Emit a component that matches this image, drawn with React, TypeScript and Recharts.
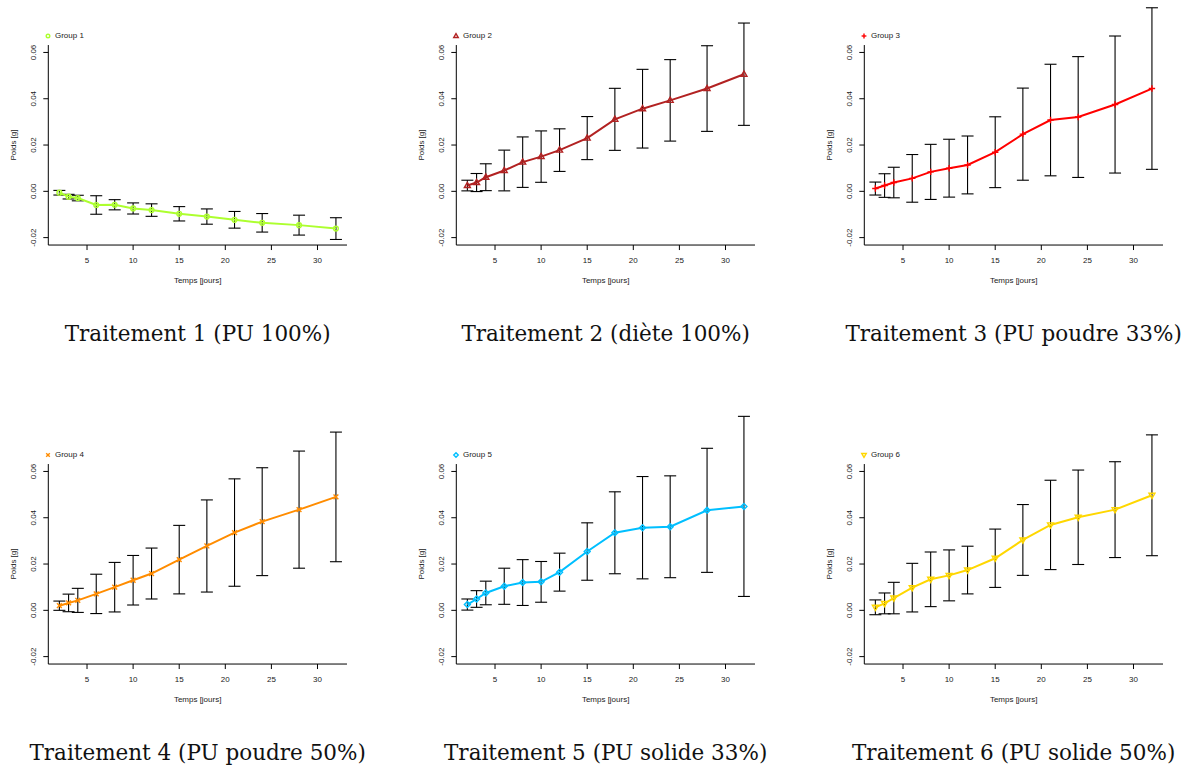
import React from 'react';
import { LineChart, Line, XAxis, YAxis, ErrorBar, ReferenceLine, Legend } from 'recharts';

// ---------- data ----------
const days = [2, 3, 4, 6, 8, 10, 12, 15, 18, 21, 24, 28, 32];
const xTicks = [5, 10, 15, 20, 25, 30];
const yTicks = [-0.02, 0, 0.02, 0.04, 0.06];

const groupNames = ['Group 1', 'Group 2', 'Group 3', 'Group 4', 'Group 5', 'Group 6'];
const titles = [
  'Traitement 1 (PU 100%)',
  'Traitement 2 (diète 100%)',
  'Traitement 3 (PU poudre 33%)',
  'Traitement 4 (PU poudre 50%)',
  'Traitement 5 (PU solide 33%)',
  'Traitement 6 (PU solide 50%)',
];
const xLabel = 'Temps [jours]';
const yLabel = 'Poids [g]';

const mean1 = [-0.0006, -0.0023, -0.0029, -0.0059, -0.0058, -0.0074, -0.0081, -0.0097, -0.0109, -0.0123, -0.0136, -0.0146, -0.0161];
const err1 = [0.001, 0.001, 0.0012, 0.004, 0.0022, 0.0024, 0.0027, 0.0031, 0.0033, 0.0036, 0.004, 0.0043, 0.0047];
const mean2 = [0.0025, 0.0038, 0.0061, 0.009, 0.0126, 0.015, 0.0178, 0.023, 0.0311, 0.0357, 0.0393, 0.0444, 0.0506];
const err2 = [0.0023, 0.0039, 0.0058, 0.0088, 0.0109, 0.0111, 0.0092, 0.0093, 0.0134, 0.017, 0.0176, 0.0185, 0.0221];
const mean3 = [0.0012, 0.0025, 0.0038, 0.0056, 0.0084, 0.01, 0.0114, 0.0169, 0.0247, 0.0308, 0.0321, 0.0375, 0.0444];
const err3 = [0.0028, 0.0051, 0.0066, 0.0103, 0.0119, 0.0125, 0.0125, 0.0153, 0.0199, 0.0241, 0.0261, 0.0296, 0.0349];
const mean4 = [0.002, 0.0032, 0.0043, 0.0071, 0.01, 0.013, 0.0159, 0.0219, 0.0278, 0.0336, 0.0383, 0.0435, 0.049];
const err4 = [0.002, 0.0038, 0.0052, 0.0085, 0.0107, 0.0107, 0.011, 0.0148, 0.0199, 0.0232, 0.0233, 0.0253, 0.028];
const mean5 = [0.0025, 0.0049, 0.0075, 0.0104, 0.012, 0.0123, 0.0165, 0.0254, 0.0335, 0.0357, 0.0361, 0.0432, 0.0449];
const err5 = [0.0024, 0.0036, 0.0051, 0.0078, 0.0099, 0.0088, 0.0082, 0.0124, 0.0177, 0.0221, 0.022, 0.0268, 0.0389];
const mean6 = [0.0013, 0.003, 0.0053, 0.0098, 0.0134, 0.0151, 0.0174, 0.0225, 0.0304, 0.0369, 0.0402, 0.0435, 0.0497];
const err6 = [0.0032, 0.0045, 0.0068, 0.0105, 0.0118, 0.011, 0.0103, 0.0126, 0.0153, 0.0193, 0.0204, 0.0207, 0.0261];

const means = [mean1, mean2, mean3, mean4, mean5, mean6];
const errs = [err1, err2, err3, err4, err5, err6];
const colors = ['#ADFF2F', '#B22222', '#FF0000', '#FF8C00', '#00BFFF', '#FFD700'];
const markerTypes = ['circle', 'triangle', 'plus', 'cross', 'diamond', 'triangleDown'];

// ---------- layout ----------
const X_MIN = 0.8;
const X_MAX = 33.2;
const Y_BOT = -0.0232;
const Y_BOX_TOP = 0.0632;
const Y_TOP = 0.09;
const PX_PER = 200 / (Y_BOX_TOP - Y_BOT);
const PLOT_H = (Y_TOP - Y_BOT) * PX_PER;
const PLOT_W = 298.7;
const YAX_W = 48.3;
const CHART_W = 360;
const M_TOP = 10;
const XAX_H = 45;
const M_BOT = 5;
const CHART_H = M_TOP + PLOT_H + XAX_H + M_BOT;
const colLeft = [0, 408, 816];
const rowBoxBottom = [245, 664];

const SANS = '"Liberation Sans", Arial, Helvetica, sans-serif';

function Marker({ type, cx, cy, color, s = 1 }: any) {
  if (cx == null || cy == null) return null;
  const sw = 1.4;
  switch (type) {
    case 'circle':
      return <circle cx={cx} cy={cy} r={2.4 * s} fill="none" stroke={color} strokeWidth={sw} />;
    case 'triangle':
      return (
        <polygon
          points={`${cx},${cy - 3.2 * s} ${cx - 3 * s},${cy + 2 * s} ${cx + 3 * s},${cy + 2 * s}`}
          fill="none"
          stroke={color}
          strokeWidth={sw}
        />
      );
    case 'triangleDown':
      return (
        <polygon
          points={`${cx},${cy + 3.2 * s} ${cx - 3 * s},${cy - 2 * s} ${cx + 3 * s},${cy - 2 * s}`}
          fill="none"
          stroke={color}
          strokeWidth={sw}
        />
      );
    case 'plus':
      return (
        <g stroke={color} strokeWidth={sw}>
          <line x1={cx - 3.2 * s} y1={cy} x2={cx + 3.2 * s} y2={cy} />
          <line x1={cx} y1={cy - 3.2 * s} x2={cx} y2={cy + 3.2 * s} />
        </g>
      );
    case 'cross':
      return (
        <g stroke={color} strokeWidth={sw}>
          <line x1={cx - 2.4 * s} y1={cy - 2.4 * s} x2={cx + 2.4 * s} y2={cy + 2.4 * s} />
          <line x1={cx - 2.4 * s} y1={cy + 2.4 * s} x2={cx + 2.4 * s} y2={cy - 2.4 * s} />
        </g>
      );
    case 'diamond':
      return (
        <polygon
          points={`${cx},${cy - 3 * s} ${cx + 3 * s},${cy} ${cx},${cy + 3 * s} ${cx - 3 * s},${cy}`}
          fill="none"
          stroke={color}
          strokeWidth={sw}
        />
      );
    default:
      return null;
  }
}

function XTick(p: any) {
  return (
    <text x={p.x} y={p.y} dy="0.355em" textAnchor="middle" fontSize={8} fill="#222" fontFamily={SANS}>
      {p.payload.value}
    </text>
  );
}

function YTick(p: any) {
  return (
    <text
      x={p.x}
      y={p.y}
      dy="0.355em"
      textAnchor="middle"
      fontSize={8}
      fill="#222"
      fontFamily={SANS}
      transform={`rotate(-90 ${p.x} ${p.y})`}
    >
      {Number(p.payload.value).toFixed(2)}
    </text>
  );
}

function Panel({ idx }: { idx: number }) {
  const data = days.map((d, i) => ({ day: d, mean: means[idx][i], err: errs[idx][i] }));
  const color = colors[idx];
  const mtype = markerTypes[idx];
  const col = idx % 3;
  const row = Math.floor(idx / 3);
  const top = rowBoxBottom[row] - PLOT_H - M_TOP;
  const left = colLeft[col];
  const boxTopRel = M_TOP + (Y_TOP - Y_BOX_TOP) * PX_PER;

  const renderXLabel = (props: any) => {
    const vb = props.viewBox || {};
    return (
      <text
        x={vb.x + vb.width / 2}
        y={vb.y + 35}
        dy="0.355em"
        textAnchor="middle"
        fontSize={8}
        fill="#222"
        fontFamily={SANS}
      >
        {xLabel}
      </text>
    );
  };
  const renderYLabel = (props: any) => {
    const vb = props.viewBox || {};
    const cy = vb.y + (Y_TOP - 0.02) * PX_PER;
    const cx = 13.3;
    return (
      <text
        x={cx}
        y={cy}
        dy="0.355em"
        textAnchor="middle"
        fontSize={8}
        fill="#222"
        fontFamily={SANS}
        transform={`rotate(-90 ${cx} ${cy})`}
      >
        {yLabel}
      </text>
    );
  };

  const legendContent = () => (
    <div style={{ display: 'flex', alignItems: 'center', height: 10, fontFamily: SANS, fontSize: 8, color: '#222', whiteSpace: 'nowrap' }}>
      <svg width={10} height={10} style={{ display: 'block' }}>
        <Marker type={mtype} cx={5} cy={5} color={color} s={0.75} />
      </svg>
      <span style={{ marginLeft: 2.3, lineHeight: '10px' }}>{groupNames[idx]}</span>
    </div>
  );

  return (
    <div style={{ position: 'absolute', left, top, width: CHART_W, height: CHART_H }}>
      <LineChart
        width={CHART_W}
        height={CHART_H}
        data={data}
        margin={{ top: M_TOP, right: CHART_W - YAX_W - PLOT_W, bottom: M_BOT, left: 0 }}
        style={{ overflow: 'visible' }}
      >
        <XAxis
          dataKey="day"
          type="number"
          domain={[X_MIN, X_MAX]}
          allowDataOverflow
          ticks={xTicks}
          interval={0}
          height={XAX_H}
          tickSize={5}
          tickMargin={10}
          tick={<XTick />}
          axisLine={{ stroke: '#000', strokeWidth: 1 }}
          tickLine={{ stroke: '#000', strokeWidth: 1 }}
          label={{ content: renderXLabel }}
        />
        <YAxis
          type="number"
          domain={[Y_BOT, Y_TOP]}
          allowDataOverflow
          ticks={yTicks}
          interval={0}
          width={YAX_W}
          tickSize={5}
          tickMargin={10}
          tick={<YTick />}
          axisLine={false}
          tickLine={{ stroke: '#000', strokeWidth: 1 }}
          label={{ content: renderYLabel }}
        />
        <ReferenceLine
          segment={[
            { x: X_MIN, y: Y_BOT },
            { x: X_MIN, y: Y_BOX_TOP },
          ]}
          stroke="#000"
          strokeWidth={1}
          ifOverflow="visible"
        />
        <Line
          dataKey="mean"
          name={groupNames[idx]}
          type="linear"
          stroke={color}
          strokeWidth={2}
          isAnimationActive={false}
          dot={(p: any) => <Marker key={`m-${p.index}`} type={mtype} cx={p.cx} cy={p.cy} color={color} />}
          activeDot={false}
        >
          <ErrorBar dataKey="err" direction="y" width={6} stroke="#000" strokeWidth={1.1} isAnimationActive={false} />
        </Line>
        <Legend
          layout="vertical"
          align="center"
          verticalAlign="middle"
          content={legendContent}
          wrapperStyle={{ left: YAX_W - 5.6, top: boxTopRel - 8.6 - 5, width: 'auto' }}
        />
      </LineChart>
      <div
        style={{
          position: 'absolute',
          left: YAX_W + PLOT_W / 2 - 200,
          width: 400,
          top: M_TOP + PLOT_H + 89 - 13,
          height: 26,
          lineHeight: '26px',
          textAlign: 'center',
          fontFamily: '"DejaVu Serif", serif',
          fontSize: 21.5,
          color: '#111',
          whiteSpace: 'nowrap',
        }}
      >
        {titles[idx]}
      </div>
    </div>
  );
}

export default function App() {
  return (
    <div
      style={{
        position: 'absolute',
        left: 0,
        top: 0,
        width: 1188,
        height: 769,
        overflow: 'hidden',
        background: '#fff',
      }}
    >
      {[0, 1, 2, 3, 4, 5].map((i) => (
        <Panel key={i} idx={i} />
      ))}
    </div>
  );
}
